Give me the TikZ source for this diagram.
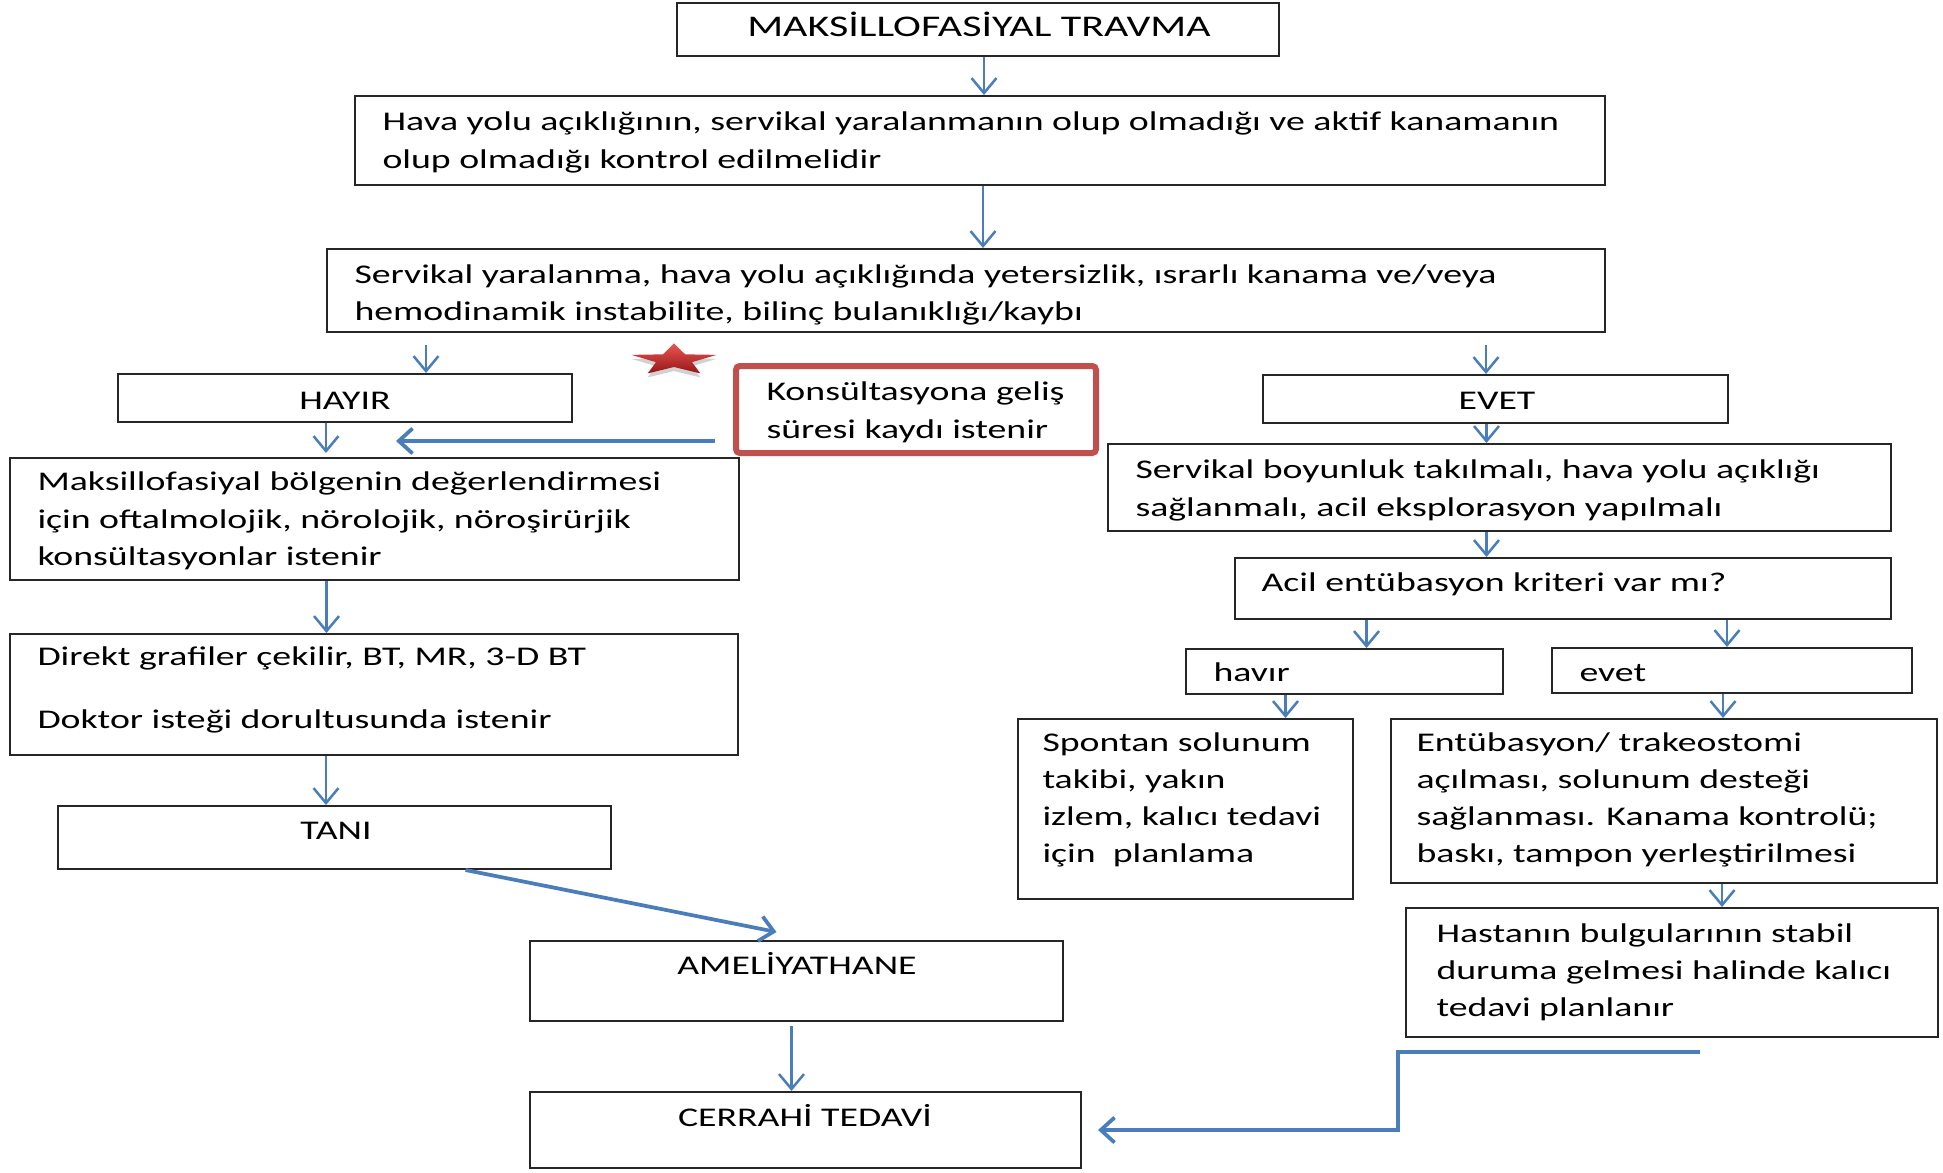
\documentclass[tikz,border=0pt]{standalone}
\usepackage{fontspec}
\setmainfont{Carlito}[FakeStretch=1.4]
\usetikzlibrary{calc,arrows.meta,fit}

\definecolor{kblue}{HTML}{4A7EBB}
\definecolor{kred}{HTML}{C0504D}
\definecolor{starlight}{RGB}{232,86,84}
\definecolor{stardark}{RGB}{150,22,22}

\tikzset{
  box/.style={draw=black!85, line width=0.8pt, inner sep=0pt},
  redbox/.style={draw=kred, line width=2.4pt, rounded corners=1.5pt, inner sep=0pt},
  txt/.style={anchor=base west, inner sep=0pt, font=\fontsize{10.8}{13}\selectfont},
  ctxt/.style={txt, anchor=base},
  arr/.style={draw=kblue, line width=1pt, -{Straight Barb[length=6pt,width=10pt]}},
  arrthick/.style={draw=kblue, line width=1.5pt, -{Straight Barb[length=5.5pt,width=10pt]}}
}

\begin{document}
\begin{tikzpicture}[x=0.4pt, y=-0.4pt]
  \useasboundingbox (0,0) rectangle (1943,1172);

  % boxes
  \node[box, fit={(677,3) (1279,56)}] (b1) {};
  \node[box, fit={(355,96) (1605,185)}] (b2) {};
  \node[box, fit={(327,249) (1605,332)}] (b3) {};
  \node[box, fit={(118,374) (572,422)}] (hayir) {};
  \node[redbox, fit={(736,366) (1096,453)}] (kons) {};
  \node[box, fit={(1263,375) (1728,423)}] (evet) {};
  \node[box, fit={(10,458) (739,580)}] (maks) {};
  \node[box, fit={(1108,444) (1891,531)}] (servik) {};
  \node[box, fit={(1235,558) (1891,619)}] (acil) {};
  \node[box, fit={(1186,649) (1503,694)}] (havir) {};
  \node[box, fit={(1552,648) (1912,693)}] (evt) {};
  \node[box, fit={(1018,719) (1353,899)}] (spont) {};
  \node[box, fit={(1391,719) (1937,883)}] (entu) {};
  \node[box, fit={(1406,908) (1938,1037)}] (hast) {};
  \node[box, fit={(10,634) (738,755)}] (direkt) {};
  \node[box, fit={(58,806) (611,869)}] (tani) {};
  \node[box, fit={(530,941) (1063,1021)}] (amel) {};
  \node[box, fit={(530,1092) (1081,1168)}] (cerr) {};

  % texts
  \node[ctxt, font=\fontsize{12}{14}\selectfont] (t1) at (979,37) {MAKSİLLOFASİYAL TRAVMA};
  \foreach \s [count=\i] in {{Hava yolu açıklığının, servikal yaralanmanın olup olmadığı ve aktif kanamanın},
      {olup olmadığı kontrol edilmelidir}}
    \node[txt] (t2-\i) at (382,{93.5+37.5*\i}) {\s};
  \foreach \s [count=\i] in {{Servikal yaralanma, hava yolu açıklığında yetersizlik, ısrarlı kanama ve/veya},
      {hemodinamik instabilite, bilinç bulanıklığı/kaybı}}
    \node[txt] (t3-\i) at (354,{245.5+37.5*\i}) {\s};
  \node[ctxt] (thayir) at (345,409) {HAYIR};
  \node[ctxt] (tevet) at (1497,409) {EVET};
  \foreach \s [count=\i] in {{Konsültasyona geliş}, {süresi kaydı istenir}}
    \node[txt] (tk-\i) at (766,{363+37.5*\i}) {\s};
  \foreach \s [count=\i] in {{Maksillofasiyal bölgenin değerlendirmesi},
      {için oftalmolojik, nörolojik, nöroşirürjik}, {konsültasyonlar istenir}}
    \node[txt] (tm-\i) at (37,{453+37.5*\i}) {\s};
  \foreach \s [count=\i] in {{Servikal boyunluk takılmalı, hava yolu açıklığı},
      {sağlanmalı, acil eksplorasyon yapılmalı}}
    \node[txt] (ts-\i) at (1135,{441+37.5*\i}) {\s};
  \node[txt] (tacil) at (1261,591) {Acil entübasyon kriteri var mı?};
  \node[txt] (thavir) at (1213,681) {havır};
  \node[txt] (tevt) at (1579,681) {evet};
  \foreach \s [count=\i] in {{Spontan solunum}, {takibi, yakın}, {izlem, kalıcı tedavi}, {için~ planlama}}
    \node[txt] (tsp-\i) at (1042,{714+37.2*\i}) {\s};
  \foreach \s [count=\i] in {{Entübasyon/ trakeostomi}, {açılması, solunum desteği},
      {sağlanması. Kanama kontrolü;}, {baskı, tampon yerleştirilmesi}}
    \node[txt] (te-\i) at (1416,{714+37.2*\i}) {\s};
  \foreach \s [count=\i] in {{Hastanın bulgularının stabil}, {duruma gelmesi halinde kalıcı}, {tedavi planlanır}}
    \node[txt] (th-\i) at (1436,{905+37*\i}) {\s};
  \node[txt] (td-1) at (37,665) {Direkt grafiler çekilir, BT, MR, 3-D BT};
  \node[txt] (td-2) at (37,728) {Doktor isteği dorultusunda istenir};
  \node[ctxt] (ttani) at (336,839) {TANI};
  \node[ctxt] (tamel) at (797,974) {AMELİYATHANE};
  \node[ctxt] (tcerr) at (805,1126) {CERRAHİ TEDAVİ};

  % star
  \begin{scope}[shift={(674,360)}, xscale=2.7]
    \fill[black, opacity=0.18] ($(0,4)+(-90:16.6)$) -- ($(0,4)+(-54:7)$) -- ($(0,4)+(-18:16.6)$)
      -- ($(0,4)+(18:7)$) -- ($(0,4)+(54:16.6)$) -- ($(0,4)+(90:7)$) -- ($(0,4)+(126:16.6)$)
      -- ($(0,4)+(162:7)$) -- ($(0,4)+(198:16.6)$) -- ($(0,4)+(234:7)$) -- cycle;
    \shade[top color=starlight, bottom color=stardark] (-90:16.6) -- (-54:7) -- (-18:16.6)
      -- (18:7) -- (54:16.6) -- (90:7) -- (126:16.6) -- (162:7) -- (198:16.6) -- (234:7) -- cycle;
  \end{scope}

  % connectors
  \coordinate (h0) at (426,345);
  \coordinate (e0) at (1486,345);
  \coordinate (k0) at (396,441);
  \coordinate (r0) at (1700,1052);
  \draw[arr] ($(b1.south)+(6,0)$) -- ($(b1.south |- b2.north)+(6,0)$);
  \draw[arr] ($(b2.south)+(3,0)$) -- ($(b2.south |- b3.north)+(3,0)$);
  \draw[arr] (h0) -- (h0 |- hayir.north);
  \draw[arr] (e0) -- (e0 |- evet.north);
  \draw[arr] ($(hayir.south)+(-19,0)$) -- ($(hayir.south |- maks.north)+(-19,-4)$);
  \draw[arrthick] ($(kons.west |- k0)+(-18,0)$) -- (k0);
  \draw[arr] ($(evet.south)+(-9,0)$) -- ($(evet.south |- servik.north)+(-9,0)$);
  \draw[arr] ($(servik.south)+(-13,0)$) -- ($(servik.south |- acil.north)+(-13,0)$);
  \draw[arr] ($(havir.north |- acil.south)+(22,0)$) -- ($(havir.north)+(22,0)$);
  \draw[arr] ($(evt.north |- acil.south)+(-5,0)$) -- ($(evt.north)+(-5,0)$);
  \draw[arr] ($(havir.south)+(-59,0)$) -- ($(havir.south |- spont.north)+(-59,0)$);
  \draw[arr] ($(evt.south)+(-9,0)$) -- ($(evt.south |- entu.north)+(-9,0)$);
  \draw[arr] ($(entu.south)+(58,0)$) -- ($(entu.south |- hast.north)+(58,0)$);
  \draw[arr] ($(maks.south)+(-48,0)$) -- ($(maks.south |- direkt.north)+(-48,0)$);
  \draw[arr] ($(direkt.south)+(-48,0)$) -- ($(direkt.south |- tani.north)+(-48,0)$);
  \draw[arrthick] ($(tani.south)+(131,0)$) -- ($(amel.north)+(-20,-8)$);
  \draw[arr] ($(amel.south)+(-5,4)$) -- ($(amel.south |- cerr.north)+(-5,0)$);
  \draw[arrthick] (r0) -- ++(-302,0) |- ($(cerr.east)+(16,0)$);
\end{tikzpicture}
\end{document}
